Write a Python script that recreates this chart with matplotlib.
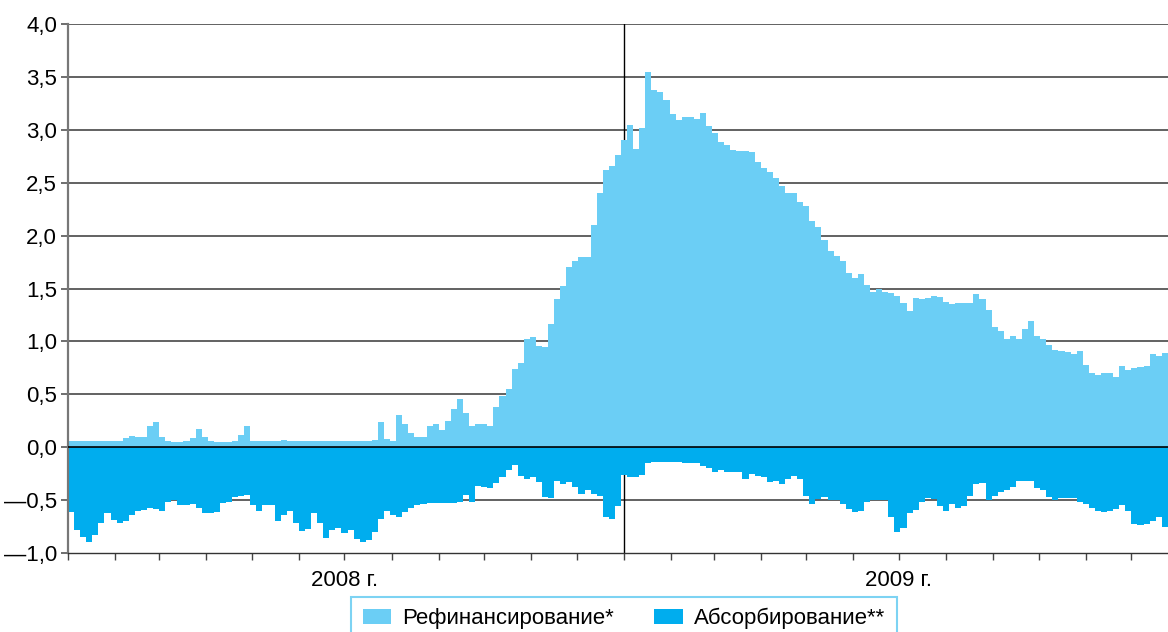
import numpy as np
import pandas as pd
import matplotlib
matplotlib.use("Agg")
import matplotlib.pyplot as plt
import matplotlib.dates as mdates
from matplotlib.patches import Patch
from matplotlib.ticker import FixedLocator, FuncFormatter

plt.rcParams['font.family'] = ['Liberation Sans', 'DejaVu Sans']
plt.rcParams['font.size'] = 16

# Refinancing (positive) and absorption (negative), trillion roubles, sampled every 4 days from 1 Jan 2008
refinancing = [
    0.06, 0.06, 0.06, 0.06, 0.06, 0.06, 0.06, 0.06, 0.06, 0.09,
    0.11, 0.10, 0.10, 0.20, 0.24, 0.10, 0.06, 0.05, 0.05, 0.06,
    0.09, 0.17, 0.10, 0.06, 0.05, 0.05, 0.05, 0.06, 0.12, 0.20,
    0.06, 0.06, 0.06, 0.06, 0.06, 0.065, 0.06, 0.06, 0.06, 0.06,
    0.06, 0.06, 0.06, 0.06, 0.06, 0.06, 0.06, 0.06, 0.06, 0.06,
    0.07, 0.24, 0.08, 0.06, 0.30, 0.22, 0.13, 0.10, 0.10, 0.20,
    0.22, 0.16, 0.25, 0.36, 0.46, 0.32, 0.20, 0.22, 0.22, 0.20,
    0.38, 0.48, 0.55, 0.74, 0.80, 1.02, 1.04, 0.96, 0.95, 1.16,
    1.40, 1.52, 1.70, 1.76, 1.80, 1.80, 2.10, 2.40, 2.62, 2.66,
    2.76, 2.90, 3.05, 2.82, 3.02, 3.55, 3.38, 3.36, 3.28, 3.15,
    3.09, 3.12, 3.12, 3.10, 3.16, 3.04, 2.97, 2.88, 2.86, 2.81,
    2.80, 2.80, 2.79, 2.70, 2.64, 2.60, 2.54, 2.47, 2.40, 2.40,
    2.32, 2.28, 2.14, 2.08, 1.96, 1.85, 1.81, 1.76, 1.65, 1.60,
    1.64, 1.53, 1.47, 1.50, 1.47, 1.46, 1.43, 1.36, 1.29, 1.41,
    1.40, 1.41, 1.43, 1.42, 1.37, 1.35, 1.36, 1.36, 1.36, 1.45,
    1.40, 1.30, 1.14, 1.10, 1.02, 1.05, 1.02, 1.12, 1.19, 1.05,
    1.02, 0.97, 0.92, 0.91, 0.90, 0.88, 0.91, 0.78, 0.70, 0.68,
    0.70, 0.70, 0.66, 0.77, 0.73, 0.75, 0.76, 0.77, 0.88, 0.86,
    0.89, 0.88,
]
absorption = [
    -0.61, -0.78, -0.85, -0.90, -0.83, -0.72, -0.62, -0.69, -0.72, -0.70,
    -0.64, -0.60, -0.59, -0.57, -0.58, -0.60, -0.52, -0.50, -0.55, -0.55,
    -0.54, -0.57, -0.62, -0.62, -0.61, -0.53, -0.52, -0.47, -0.46, -0.45,
    -0.55, -0.60, -0.55, -0.55, -0.70, -0.64, -0.60, -0.72, -0.79, -0.77,
    -0.62, -0.72, -0.86, -0.78, -0.76, -0.81, -0.78, -0.87, -0.90, -0.88,
    -0.80, -0.68, -0.60, -0.64, -0.66, -0.61, -0.57, -0.55, -0.54, -0.53,
    -0.53, -0.53, -0.53, -0.53, -0.52, -0.45, -0.52, -0.37, -0.38, -0.39,
    -0.34, -0.28, -0.22, -0.17, -0.27, -0.30, -0.28, -0.33, -0.47, -0.48,
    -0.32, -0.35, -0.33, -0.38, -0.44, -0.40, -0.44, -0.46, -0.66, -0.68,
    -0.56, -0.26, -0.28, -0.28, -0.26, -0.15, -0.14, -0.14, -0.14, -0.14,
    -0.14, -0.15, -0.15, -0.15, -0.18, -0.20, -0.23, -0.22, -0.23, -0.23,
    -0.23, -0.30, -0.25, -0.27, -0.28, -0.33, -0.32, -0.35, -0.30, -0.27,
    -0.30, -0.46, -0.54, -0.49, -0.47, -0.50, -0.50, -0.54, -0.58, -0.61,
    -0.60, -0.52, -0.50, -0.50, -0.50, -0.66, -0.80, -0.76, -0.62, -0.59,
    -0.52, -0.48, -0.49, -0.56, -0.60, -0.54, -0.57, -0.56, -0.46, -0.35,
    -0.34, -0.50, -0.46, -0.42, -0.40, -0.38, -0.32, -0.32, -0.32, -0.39,
    -0.40, -0.47, -0.50, -0.48, -0.48, -0.48, -0.52, -0.54, -0.57, -0.60,
    -0.61, -0.60, -0.58, -0.55, -0.60, -0.73, -0.74, -0.73, -0.70, -0.66,
    -0.75, -0.75,
]
y_ticks = [-1.0, -0.5, 0.0, 0.5, 1.0, 1.5, 2.0, 2.5, 3.0, 3.5, 4.0]
series_names = ["Рефинансирование*", "Абсорбирование**"]
year_labels = ["2008 г.", "2009 г."]

c_ref = "#6BCEF5"
c_abs = "#00ADEE"

dates = pd.date_range("2008-01-01", periods=len(refinancing) + 1, freq="4D")
xn = mdates.date2num(dates)

fig = plt.figure(figsize=(11.68, 6.32), dpi=100)
ax = fig.add_axes([68 / 1168, 1 - 553 / 632, 1 - 68 / 1168, (553 - 24) / 632])

ref_ext = list(refinancing) + [refinancing[-1]]
abs_ext = list(absorption) + [absorption[-1]]
ax.fill_between(xn, 0, ref_ext, step="post", color=c_ref, linewidth=0, zorder=2)
ax.fill_between(xn, 0, abs_ext, step="post", color=c_abs, linewidth=0, zorder=2)

# grid lines behind bars
for v in y_ticks:
    if v not in (0.0, -1.0):
        ax.axhline(v, color="#555555", linewidth=1.3, zorder=1)
ax.axhline(0.0, color="black", linewidth=1.2, zorder=3)
ax.axvline(mdates.date2num(pd.Timestamp("2009-01-01")), color="black", linewidth=1.0, zorder=1)

x0 = mdates.date2num(pd.Timestamp("2008-01-01"))
x1 = x0 + (1168 - 68) * 366 / 556
ax.set_xlim(x0, x1)
ax.set_ylim(-1.0, 4.0)

ax.set_yticks(y_ticks)
ax.yaxis.set_major_formatter(FuncFormatter(
    lambda v, p: (f"{v:.1f}".replace(".", ",").replace("-", "—"))))
ax.tick_params(axis="y", length=5, width=1.2, color="#555555", pad=3, labelsize=16)

months = pd.date_range("2008-01-01", "2009-12-01", freq="MS")
ax.xaxis.set_minor_locator(FixedLocator(mdates.date2num(months)))
mids = [mdates.date2num(pd.Timestamp("2008-07-01")), mdates.date2num(pd.Timestamp("2009-07-01"))]
ax.set_xticks(mids)
ax.set_xticklabels(year_labels)
ax.xaxis.remove_overlapping_locs = False
ax.tick_params(axis="x", which="major", length=0, pad=12, labelsize=16)
ax.tick_params(axis="x", which="minor", length=5, width=1.0, color="#444444", direction="out")

for s in ("top", "right"):
    ax.spines[s].set_visible(False)
ax.spines["left"].set_color("#777777")
ax.spines["left"].set_linewidth(1.6)
ax.spines["bottom"].set_color("#333333")
ax.spines["bottom"].set_linewidth(1.0)

handles = [Patch(facecolor=c_ref, edgecolor="none"), Patch(facecolor=c_abs, edgecolor="none")]
leg = fig.legend(handles, series_names, loc="upper center", bbox_to_anchor=(624 / 1168, 1 - 597 / 632),
                 ncol=2, frameon=True, fancybox=False, fontsize=16, handlelength=1.3,
                 handleheight=0.7, handletextpad=0.5, columnspacing=1.8,
                 borderpad=0.5, borderaxespad=0)
leg.get_frame().set_edgecolor("#5CC8F0")
leg.get_frame().set_linewidth(1.5)

fig.savefig("out.png", dpi=100)
